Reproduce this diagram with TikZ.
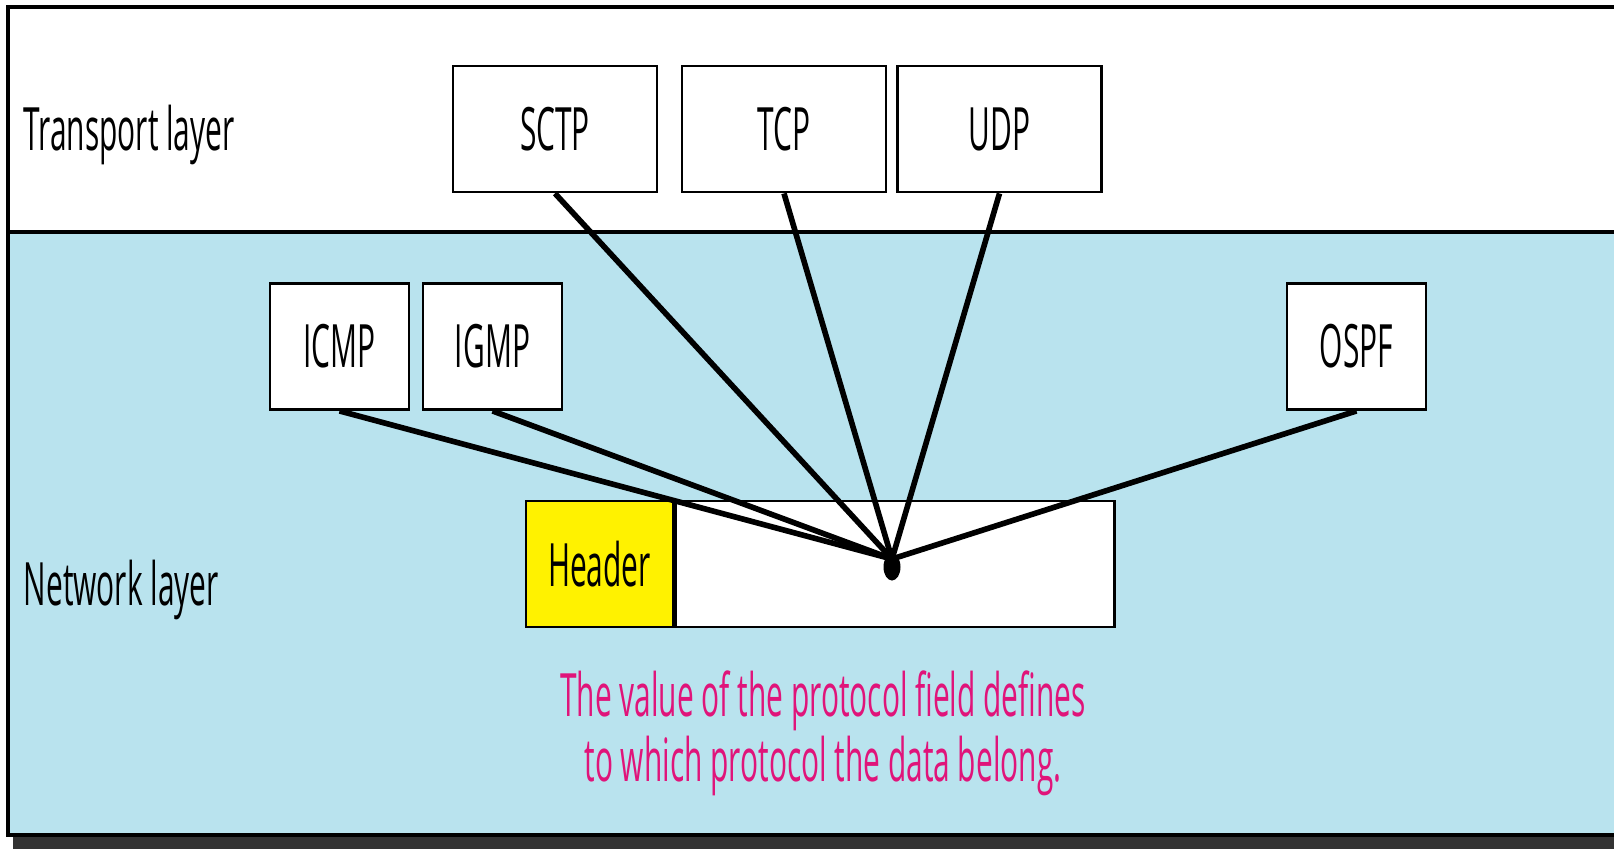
\documentclass[tikz,border=0pt]{standalone}
\usepackage{fontspec}
\setmainfont[FakeStretch=0.5]{Open Sans}
\usetikzlibrary{positioning,shapes.geometric}

\definecolor{netblue}{RGB}{185,227,238}
\definecolor{notepink}{RGB}{224,20,122}
\definecolor{shadowgray}{RGB}{51,51,51}

\tikzset{
  protobox/.style = {draw, line width=0.8pt, fill=white, inner sep=0pt,
                     minimum height=1.26cm, font=\fontsize{17}{18.5}\selectfont},
  layerlabel/.style = {anchor=west, inner sep=0pt, font=\fontsize{17}{18.5}\selectfont},
  link/.style = {line width=1.6pt}
}

\begin{document}
\begin{tikzpicture}[x=0.01cm, y=-0.01cm]
  \useasboundingbox (0,0) rectangle (1614,849);
  \clip (0,0) rectangle (1614,849);

  % Frame and layers
  \fill [shadowgray] (13,835) rectangle (1640,849);
  \fill [white] (8,7) rectangle (1640,232);
  \fill [netblue] (8,232) rectangle (1640,835);
  \draw [line width=1.1pt] (1640,7) -- (8,7) -- (8,835) -- (1640,835);
  \draw [line width=1pt] (8,232) -- (1640,232);

  \node [layerlabel] (transport) at (23,135) {Transport layer};
  \node [layerlabel] (network) at (23,590) {Network layer};

  % Upper-layer protocols
  \node [protobox, minimum width=2.04cm] (sctp) at (555,129) {SCTP};
  \node [protobox, minimum width=2.04cm] (tcp) at (784,129) {TCP};
  \node [protobox, minimum width=2.04cm] (udp) at (999.5,129) {UDP};

  \node [protobox, minimum width=1.39cm] (icmp) at (339.5,346.5) {ICMP};
  \node [protobox, minimum width=1.39cm] (igmp) at (492.5,346.5) {IGMP};
  \node [protobox, minimum width=1.39cm] (ospf) at (1356.5,346.5) {OSPF};

  % Datagram
  \node [protobox, fill=yellow, minimum width=1.47cm] (header) at (599.5,564) {Header};
  \node [protobox, minimum width=4.38cm, anchor=west] (payload) at (header.east) {};

  \node [fill, ellipse, inner sep=0pt, minimum width=0.17cm, minimum height=0.27cm] (field) at (892,567) {};
  \coordinate (hub) at (892,559);

  \foreach \p in {sctp, tcp, udp, icmp, igmp, ospf}
    \draw [link] (\p.south) -- (hub);

  \node [text=notepink, align=center, inner sep=0pt, font=\fontsize{17}{18.5}\selectfont] (note) at (823,733)
    {The value of the protocol field defines\\ to which protocol the data belong.};
\end{tikzpicture}
\end{document}
